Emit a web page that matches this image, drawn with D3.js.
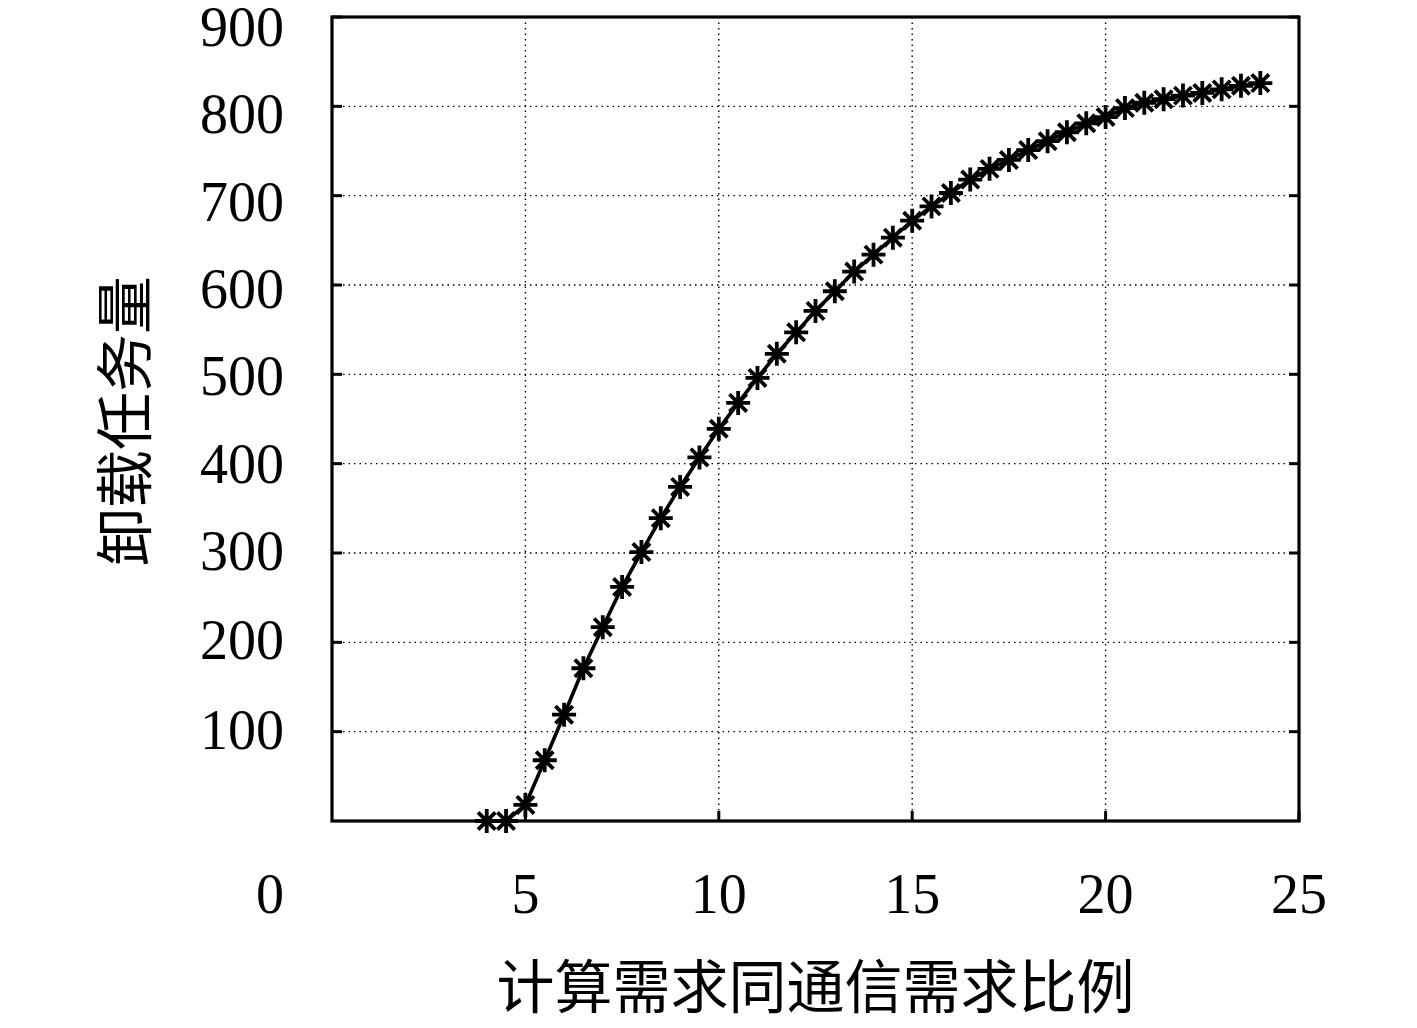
<!DOCTYPE html>
<html lang="zh">
<head>
    <meta charset="UTF-8">
    <style>
        body { margin: 0; background: #fff; }
        #chart { width: 1417px; height: 1028px; }
        .tick-label { font-family: "Liberation Serif", "DejaVu Serif", serif; font-size: 56px; fill: #000; }
        .axis-title { font-family: "Noto Sans CJK SC", sans-serif; font-size: 58px; fill: #000; }
    </style>
    <script src="https://d3js.org/d3.v7.min.js"></script>
</head>
<body>
    <div id="chart"></div>
    <script>
        // ratio of computing demand to communication demand
        var ratios = [4, 4.5, 5, 5.5, 6, 6.5, 7, 7.5, 8, 8.5, 9, 9.5, 10, 10.5, 11, 11.5, 12, 12.5, 13, 13.5,
            14, 14.5, 15, 15.5, 16, 16.5, 17, 17.5, 18, 18.5, 19, 19.5, 20, 20.5, 21, 21.5, 22, 22.5, 23, 23.5, 24];
        // offloaded task amount
        var offloaded = [0, 0, 18, 68, 119, 171, 217, 262, 301, 339, 374, 407, 439, 468, 496, 523, 547, 571, 593, 615,
            634, 653, 672, 688, 703, 718, 730, 740, 751, 761, 771, 781, 788, 798, 804, 808, 812, 815, 819, 823, 826];
        var xTicks = [5, 10, 15, 20, 25];
        var yTicks = [100, 200, 300, 400, 500, 600, 700, 800, 900];
        var xTitle = "计算需求同通信需求比例";
        var yTitle = "卸载任务量";

        var margin = { top: 17, right: 118, bottom: 207, left: 332 };
        var W = 1417, H = 1028;
        var width = W - margin.left - margin.right;
        var height = H - margin.top - margin.bottom;

        var svg = d3.select("#chart").append("svg")
            .attr("width", W).attr("height", H);
        var g = svg.append("g")
            .attr("transform", "translate(" + margin.left + "," + margin.top + ")");

        var x = d3.scaleLinear().domain([0, 25]).range([0, width]);
        var y = d3.scaleLinear().domain([0, 900]).range([height, 0]);

        // dotted grid
        g.selectAll(".gx").data(xTicks.filter(d => d < 25)).enter().append("line")
            .attr("x1", d => x(d)).attr("x2", d => x(d))
            .attr("y1", 0).attr("y2", height)
            .attr("stroke", "#000").attr("stroke-width", 1.4)
            .attr("stroke-dasharray", "1.5,4");
        g.selectAll(".gy").data(yTicks.filter(d => d < 900)).enter().append("line")
            .attr("x1", 0).attr("x2", width)
            .attr("y1", d => y(d)).attr("y2", d => y(d))
            .attr("stroke", "#000").attr("stroke-width", 1.4)
            .attr("stroke-dasharray", "1.5,4");

        // inward ticks
        var tl = 10;
        g.selectAll(".tyl").data(yTicks).enter().append("line")
            .attr("x1", 0).attr("x2", tl).attr("y1", d => y(d)).attr("y2", d => y(d))
            .attr("stroke", "#000").attr("stroke-width", 3);
        g.selectAll(".tyr").data(yTicks).enter().append("line")
            .attr("x1", width - tl).attr("x2", width).attr("y1", d => y(d)).attr("y2", d => y(d))
            .attr("stroke", "#000").attr("stroke-width", 3);
        g.selectAll(".txb").data(xTicks).enter().append("line")
            .attr("x1", d => x(d)).attr("x2", d => x(d)).attr("y1", height).attr("y2", height - tl)
            .attr("stroke", "#000").attr("stroke-width", 3);

        // frame
        g.append("rect").attr("width", width).attr("height", height)
            .attr("fill", "none").attr("stroke", "#000").attr("stroke-width", 3.2);

        // tick labels (upper ones sit a little lower, as in the original)
        g.selectAll(".ylab").data(yTicks).enter().append("text")
            .attr("class", "tick-label")
            .attr("x", -48).attr("y", d => y(d) + Math.max(0, (d - 300) / 50) - 2).attr("dy", "0.34em")
            .attr("text-anchor", "end").text(d => d);
        g.selectAll(".xlab").data(xTicks).enter().append("text")
            .attr("class", "tick-label")
            .attr("x", d => x(d)).attr("y", height + 92)
            .attr("text-anchor", "middle").text(d => d);
        g.append("text").attr("class", "tick-label")
            .attr("x", x(0) - 62).attr("y", height + 92)
            .attr("text-anchor", "middle").text("0");

        // axis titles
        g.append("text").attr("class", "axis-title")
            .attr("x", width / 2 + 0).attr("y", height + 187)
            .attr("text-anchor", "middle").text(xTitle);
        g.append("text").attr("class", "axis-title")
            .attr("transform", "translate(" + (-186) + "," + (y(450) + 2) + ") rotate(-90)")
            .attr("text-anchor", "middle").text(yTitle);

        // line
        var pts = ratios.map((r, i) => [r, offloaded[i]]);
        g.append("path").datum(pts)
            .attr("fill", "none").attr("stroke", "#000").attr("stroke-width", 3.6)
            .attr("d", d3.line().x(d => x(d[0])).y(d => y(d[1])));

        // asterisk markers
        var s = 12;
        var star = "M" + (-s) + ",0L" + s + ",0M0," + (-s) + "L0," + s +
            "M" + (-s * 0.72) + "," + (-s * 0.72) + "L" + (s * 0.72) + "," + (s * 0.72) +
            "M" + (-s * 0.72) + "," + (s * 0.72) + "L" + (s * 0.72) + "," + (-s * 0.72);
        g.selectAll(".pt").data(pts).enter().append("path")
            .attr("transform", d => "translate(" + x(d[0]) + "," + y(d[1]) + ")")
            .attr("d", star).attr("stroke", "#000").attr("stroke-width", 3.8).attr("fill", "none");
    </script>
</body>
</html>
